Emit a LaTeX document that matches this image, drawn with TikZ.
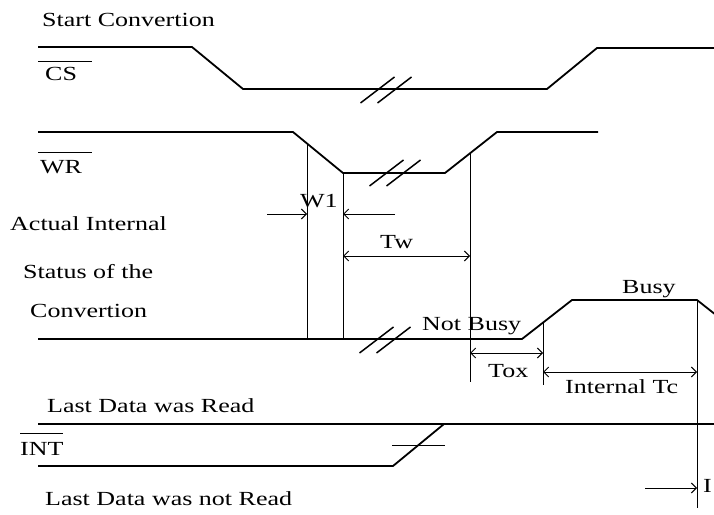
\documentclass[tikz,border=0pt]{standalone}
\usepackage{fontspec}
\setmainfont{Liberation Serif}[FakeStretch=1.3]
\usetikzlibrary{arrows.meta}
\tikzset{
    lbl/.style={inner sep=0pt, anchor=base west, font=\fontsize{20}{24}\selectfont},
    sig/.style={line width=1.8pt, line join=round},
    guide/.style={line width=1pt},
    brk/.style={line width=1.5pt},
    tip/.style={-{Straight Barb[length=5pt,width=10pt]}},
    dim/.style={guide, {Straight Barb[length=5pt,width=10pt]}-{Straight Barb[length=5pt,width=10pt]}}
}
\begin{document}
\begin{tikzpicture}[x=1pt,y=-1pt]
    \useasboundingbox (0,0) rectangle (714,514);
    % labels
    \node(start) [lbl] at (42,26) {Start Convertion};
    \node(cs) [lbl] at (45,80) {CS};
    \node(wr) [lbl] at (40,173) {WR};
    \node(act) [lbl] at (10,230) {Actual Internal};
    \node(stat) [lbl] at (23,278) {Status of the};
    \node(conv) [lbl] at (30,317) {Convertion};
    \node(read) [lbl] at (47,412) {Last Data was Read};
    \node(int) [lbl] at (20,455) {INT};
    \node(nread) [lbl] at (45,505) {Last Data was not Read};
    \node(w1) [lbl] at (300,207) {W1};
    \node(tw) [lbl] at (380,248) {Tw};
    \node(notbusy) [lbl] at (422,330) {Not Busy};
    \node(busy) [lbl] at (622,293) {Busy};
    \node(tox) [lbl] at (488,377) {Tox};
    \node(tc) [lbl] at (565,393) {Internal Tc};
    \node(tr) [lbl] at (703,492) {I};
    % overlines
    \draw[guide] (38,61) -- (92,61);
    \draw[guide] (38,152) -- (92,152);
    \draw[guide] (20,433) -- (63,433);
    % signals
    \draw[sig] (38,47) -- (192,47) -- (243,89) -- (547,89) -- (597,48) -- (714,48);
    \draw[sig] (38,132) -- (293,132) -- (343,173) -- (445,173) -- (497,132) -- (598,132);
    \draw[sig] (38,339) -- (522,339) -- (572,300) -- (697,300) -- (716,315);
    \draw[sig] (38,424) -- (714,424);
    \draw[sig] (38,466) -- (393,466) -- (444,424);
    \draw[guide] (392,445) -- (445,445);
    % break marks
    \foreach \cx/\cy in {386/90, 395/173, 385/340}
        \foreach \d in {-8.5,8.5}
            \draw[brk] ({\cx+\d-17},{\cy+13}) -- ({\cx+\d+17},{\cy-13});
    % timing guides
    \coordinate(g1) at (307,144);
    \coordinate(g2) at (343,173);
    \coordinate(g3) at (470,153);
    \coordinate(g4) at (543,323);
    \coordinate(g5) at (697,300);
    \draw[guide] (g1) -- (g1 |- 0,339);
    \draw[guide] (g2) -- (g2 |- 0,339);
    \draw[guide] (g3) -- (g3 |- 0,382);
    \draw[guide] (g4) -- (g4 |- 0,385);
    \draw[guide] (g5) -- (g5 |- 0,508);
    % dimensions
    \draw[guide,tip] (267,214) -- (g1 |- 0,214);
    \draw[guide,tip] (395,214) -- (g2 |- 0,214);
    \draw[dim] (g2 |- 0,256) -- (g3 |- 0,256);
    \draw[dim] (g3 |- 0,353) -- (g4 |- 0,353);
    \draw[dim] (g4 |- 0,372) -- (g5 |- 0,372);
    \draw[guide,tip] (645,488) -- (g5 |- 0,488);
\end{tikzpicture}
\end{document}
